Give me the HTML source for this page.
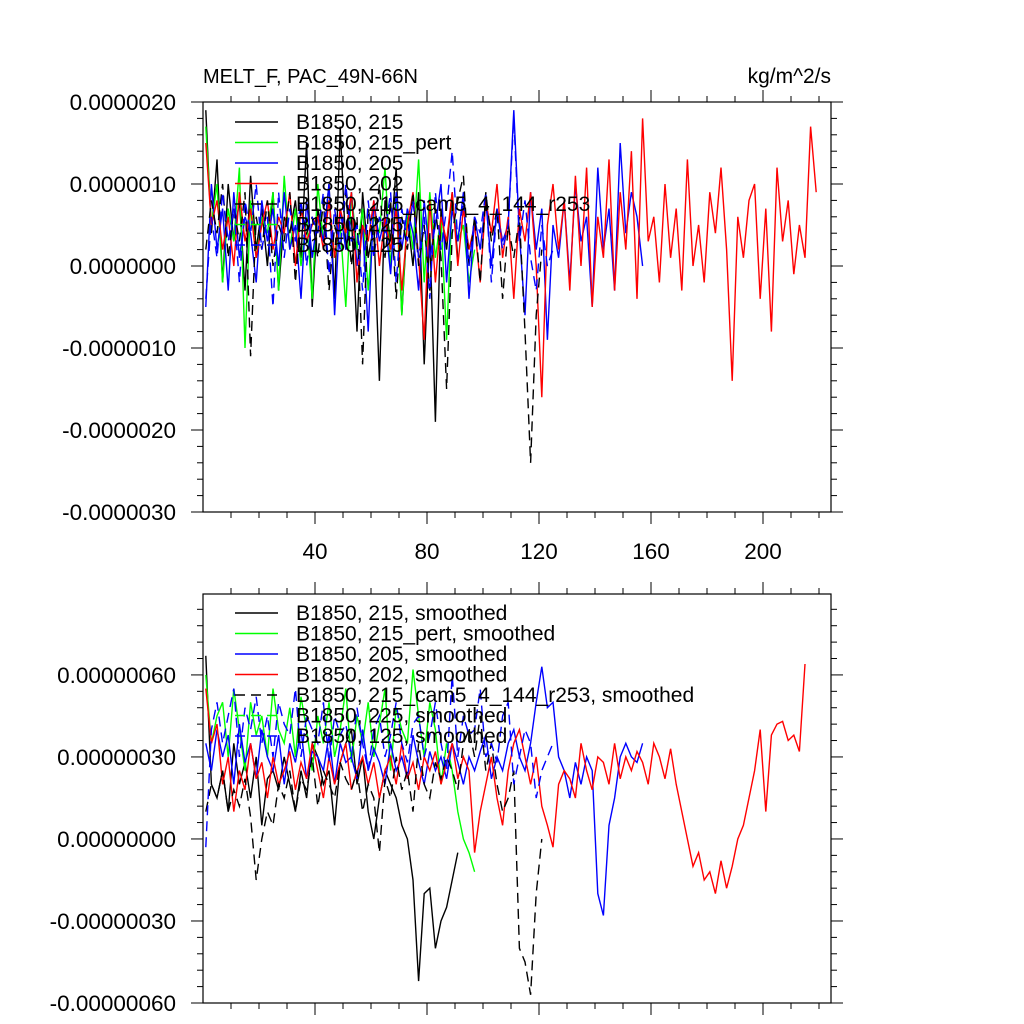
<!DOCTYPE html>
<html><head><meta charset="utf-8"><style>
body{margin:0;background:#fff}
svg{display:block;font-family:"Liberation Sans",sans-serif}
</style></head><body>
<svg id="c" width="1024" height="1024" viewBox="0 0 1024 1024">
<text x="203" y="83" font-size="20">MELT_F, PAC_49N-66N</text>
<text x="831" y="83" font-size="21" text-anchor="end">kg/m^2/s</text>
</svg>
<script>
// values in units of 1e-7 (top panel) and 1e-8 (bottom panel); x = 1 + 2*i
const xTickLabels=[40,80,120,160,200];
const topYTicks=[2,1,0,-1,-2,-3];
const topYLabels=["0.0000020","0.0000010","0.0000000","-0.0000010","-0.0000020","-0.0000030"];
const botYTicks=[60,30,0,-30,-60];
const botYLabels=["0.00000060","0.00000030","0.00000000","-0.00000030","-0.00000060"];
const legendTop=["B1850, 215","B1850, 215_pert","B1850, 205","B1850, 202","B1850, 215_cam5_4_144_r253","B1850, 225","B1850, 125"];
const legendBot=legendTop.map(s=>s+", smoothed");

const topRed=[15,5,8,2,6,0,9,3,7,1,5,8,2,6,4,9,0,7,3,5,6,2,8,1,7,4,9,-2,5,3,8,0,6,2,7,-3,5,9,1,-9,8,-2,6,3,9,0,7,2,5,-2,8,4,10,1,6,-4,7,3,9,0,-16,5,10,2,8,-3,11,0,12,-5,6,1,13,-3,9,2,14,-4,18,3,6,-2,10,1,7,-3,13,0,5,-2,9,4,12,2,-14,6,1,8,10,-4,7,-8,12,3,8,-1,5,1,17,9];
const topBlue=[-5,10,2,7,-3,9,1,6,4,-2,8,3,7,0,9,2,5,-4,8,1,6,3,10,-6,7,2,9,0,5,-8,8,3,6,-1,9,2,7,4,-3,8,1,5,10,-2,7,3,9,-4,6,2,8,0,7,3,5,19,4,-6,9,2,7,-9,5,1,8,-2,10,3,6,-5,12,2,7,-3,15,4,9,6,0];
const topBlack=[19,4,13,-2,10,3,8,-3,11,2,7,0,9,-3,6,4,8,1,15,-5,7,3,10,-4,17,2,6,-8,9,1,5,-14,8,3,12,-6,6,0,9,-12,4,-19,7,2,9,1];
const topGreen=[17,5,10,-2,7,3,12,-10,8,1,6,4,9,-3,11,2,7,0,6,-4,10,3,8,1,5,-5,9,2,7,-3,6,4,12,0,8,-6,7,2,13,-2,9,1,6,-9,8,3,5,-2,2];
const topBlackDash=[2,8,4,10,1,7,3,9,-11,6,2,8,0,5,3,9,-2,7,4,6,1,8,-3,5,2,9,0,6,-12,7,3,10,1,8,-4,6,2,9,0,5,-3,7,1,-15,4,8,11,0,6,-2,9,3,7,-4,5,1,6,-8,-24,-6,2];
const topBlueDash=[-4,6,1,9,3,7,-2,8,4,10,2,6,-5,9,1,7,3,8,0,6,4,9,-1,7,2,10,3,5,-3,8,1,6,4,9,-2,7,3,8,1,6,-4,9,2,7,14,3,8,0,6,4,9,-2,7,2,5,18,3,8,1,-3,5,0,2];

const botRed=[55,35,42,20,30,10,25,18,35,22,28,15,30,20,25,32,18,28,22,35,25,15,30,20,28,35,18,25,30,20,28,15,25,30,20,35,22,28,18,30,25,32,20,28,35,22,30,25,-5,10,20,30,15,5,25,35,40,30,20,30,12,5,-3,20,25,22,15,35,25,18,30,28,20,35,22,30,25,32,28,20,35,30,22,33,20,10,0,-10,-5,-15,-12,-20,-8,-18,-10,0,5,15,25,40,10,38,42,43,36,38,32,64];
const botBlue=[35,25,40,30,38,20,42,28,35,22,40,30,25,38,20,35,28,40,22,32,30,25,38,20,35,28,30,22,40,25,33,28,20,35,25,30,22,38,28,20,32,25,30,22,35,28,20,30,25,32,38,22,30,25,35,40,30,25,35,50,63,48,50,30,25,15,28,20,30,25,-20,-28,5,15,30,35,30,28,35];
const botBlack=[67,20,15,25,10,35,20,28,15,30,5,22,25,18,30,20,10,25,15,35,30,20,25,5,28,35,40,20,30,10,0,15,25,20,15,5,0,-15,-52,-20,-18,-40,-30,-25,-15,-5];
const botGreen=[60,35,45,50,30,55,40,25,50,38,45,30,55,40,35,48,30,52,40,25,45,35,50,30,40,55,28,45,35,50,30,42,55,25,48,40,35,62,45,30,50,40,20,35,25,10,0,-5,-12];
const botBlackDash=[10,20,15,25,10,18,12,22,8,-15,0,10,5,20,15,25,10,22,18,30,12,25,20,15,28,22,18,25,10,20,15,-5,22,15,30,18,25,10,35,20,15,28,22,30,25,18,35,40,30,45,25,35,20,10,15,25,-40,-45,-57,-20,0];
const botBlueDash=[-3,40,50,35,45,55,30,48,40,52,35,45,30,50,42,38,55,30,45,40,35,50,28,45,38,42,30,48,35,25,40,45,30,38,50,35,28,42,45,30,38,50,35,25,60,30,45,38,40,55,30,35,28,45,50,20,30,40,35,15,25,30,35];

const svg=document.getElementById('c');
const NS='http://www.w3.org/2000/svg';
function mk(tag,attrs,parent){const e=document.createElementNS(NS,tag);for(const k in attrs)e.setAttribute(k,attrs[k]);(parent||svg).appendChild(e);return e;}
const X0=203,X1=831,PX=2.8;
function xs(v){return X0+v*PX;}

function panel(top,bot,vTop,vBot,yT,yL,series,legend,legY,name){
  const ys=v=>top+(vTop-v)/(vTop-vBot)*(bot-top);
  const g=mk('g',{});
  
  
  const cp=mk('clipPath',{id:name+'-clip'},g);
  mk('rect',{x:X0,y:top,width:X1-X0,height:bot-top},cp);
  const sg=mk('g',{'clip-path':'url(#'+name+'-clip)'},g);
  series.forEach(s=>{
    const pts=s.d.map((v,i)=>xs(1+2*i).toFixed(1)+','+ys(v).toFixed(1)).join(' ');
    const p=mk('polyline',{points:pts,fill:'none',stroke:s.c,'stroke-width':1.4,'stroke-dasharray':s.dash?'10,6':'none'},sg);
    
    
  });
  const fr=mk('rect',{x:X0,y:top,width:X1-X0,height:bot-top,fill:'none',stroke:'#000','stroke-width':1.2},g);
  
  
  for(let v=10;v<=220;v+=10){
    const maj=v%40===0, len=maj?12:6;
    mk('line',{x1:xs(v),x2:xs(v),y1:bot,y2:bot+len,stroke:'#000'},g);
    mk('line',{x1:xs(v),x2:xs(v),y1:top,y2:top-len,stroke:'#000'},g);
  }
  const step=yT[0]-yT[1], minor=step/5;
  for(let v=vBot;v<=vTop+1e-9;v+=minor){
    const maj=Math.abs(Math.round(v/step)*step-v)<1e-6, len=maj?12:6;
    mk('line',{x1:X0,x2:X0-len,y1:ys(v),y2:ys(v),stroke:'#000'},g);
    mk('line',{x1:X1,x2:X1+len,y1:ys(v),y2:ys(v),stroke:'#000'},g);
  }
  yT.forEach((v,i)=>{
    const t=mk('text',{x:X0-27,y:ys(v)+8,'font-size':22.5,'text-anchor':'end'},g);
    t.textContent=yL[i];
    
    
  });
  legend.forEach((lab,i)=>{
    const y=legY+i*20.5, s=series[i];
    mk('line',{x1:235,x2:278,y1:y,y2:y,stroke:s.c,'stroke-width':1.4,'stroke-dasharray':s.dash?'10,6':'none'},g);
    const t=mk('text',{x:296,y:y+7,'font-size':21},g);
    t.textContent=lab;
    
    
  });
  return ys;
}
panel(102,512,20,-30,topYTicks.map(v=>v*10),topYLabels,
 [{d:topBlack,c:'#000',n:'series-215'},{d:topGreen,c:'#0f0',n:'series-215-pert'},{d:topBlue,c:'#00f',n:'series-205'},{d:topRed,c:'#f00',n:'series-202'},{d:topBlackDash,c:'#000',dash:1,n:'series-215-cam5'},{d:[],c:'#0f0',dash:1,n:'series-225'},{d:topBlueDash,c:'#00f',dash:1,n:'series-125'}],
 legendTop,122,'top-panel');
xTickLabels.forEach(v=>{
  const t=mk('text',{x:xs(v),y:559,'font-size':22.5,'text-anchor':'middle'});
  t.textContent=v;
  
  
});
panel(594,1003,89.6,-60,botYTicks,botYLabels,
 [{d:botBlack,c:'#000',n:'series-215-smoothed'},{d:botGreen,c:'#0f0',n:'series-215-pert-smoothed'},{d:botBlue,c:'#00f',n:'series-205-smoothed'},{d:botRed,c:'#f00',n:'series-202-smoothed'},{d:botBlackDash,c:'#000',dash:1,n:'series-215-cam5-smoothed'},{d:[],c:'#0f0',dash:1,n:'series-225-smoothed'},{d:botBlueDash,c:'#00f',dash:1,n:'series-125-smoothed'}],
 legendBot,613,'bottom-panel');
</script>
</body></html>
